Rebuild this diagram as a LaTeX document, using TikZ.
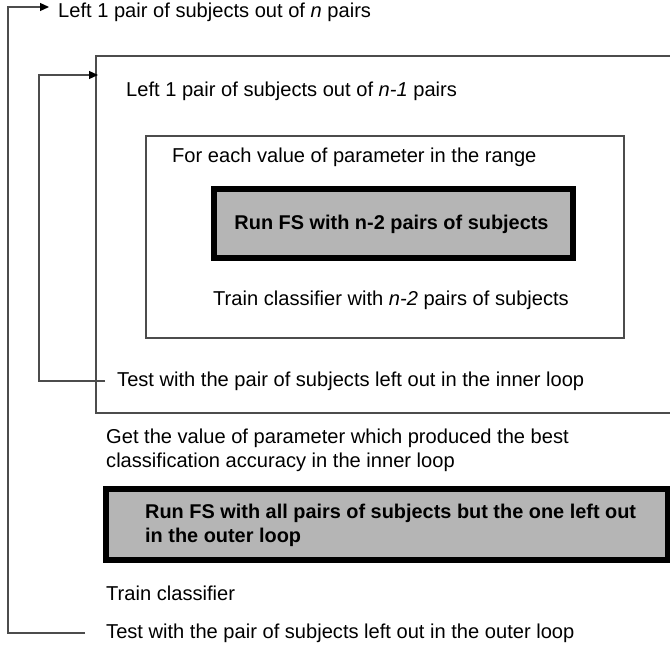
\documentclass[tikz,border=0pt]{standalone}
\usepackage{fontspec}
\setmainfont{Liberation Sans}
\usetikzlibrary{arrows.meta}
\definecolor{linegray}{gray}{0.3}
\definecolor{boxgray}{gray}{0.71}
\tikzset{
  txt/.style={anchor=base west, inner sep=0pt, font=\fontsize{20.1}{24}\selectfont, align=left},
  boldtxt/.style={anchor=base west, inner sep=0pt, font=\fontsize{19.9}{24}\selectfont\bfseries, align=left},
  framebox/.style={draw=linegray, line width=1.3pt},
  fsbox/.style={draw=black, line width=5.5pt, fill=boxgray},
  loopline/.style={draw=linegray, line width=1.3pt},
  looparrow/.style={loopline, -{Triangle[length=9pt,width=8pt,color=black]}},
}
\begin{document}
\begin{tikzpicture}[x=1pt,y=-1pt]
\useasboundingbox (0,0) rectangle (670,645);
\clip (0,0) rectangle (670,645);
% boxes
\draw[framebox] (96,56) rectangle (680,413);
\draw[framebox] (146,136) rectangle (624,338);
\draw[fsbox] (214,189) rectangle (573,258);
\draw[fsbox] (106,489) rectangle (667.5,560);
% texts
\node[txt] (outerTop) at (58,17) {Left 1 pair of subjects out of \textit{n} pairs};
\node[txt] (innerTop) at (126,96) {Left 1 pair of subjects out of \textit{n-1} pairs};
\node[txt] (foreach) at (172,162) {For each value of parameter in the range};
\node[boldtxt, anchor=base] (fs1) at (391.5,229) {Run FS with n-2 pairs of subjects};
\node[txt] (train1) at (213,305) {Train classifier with \textit{n-2} pairs of subjects};
\node[txt] (innerTest) at (117,386) {Test with the pair of subjects left out in the inner loop};
\node[txt] (getval) at (106,467) {Get the value of parameter which produced the best\\classification accuracy in the inner loop};
\node[boldtxt] (fs2) at (145,542) {Run FS with all pairs of subjects but the one left out\\in the outer loop};
\node[txt] (train2) at (106,600) {Train classifier};
\node[txt] (outerTest) at (106,638) {Test with the pair of subjects left out in the outer loop};
% loop connectors
\coordinate (oBot) at (85,633);
\coordinate (oCorner) at (8,633);
\coordinate (oTip) at (49,7);
\coordinate (iBot) at (105,381);
\coordinate (iCorner) at (39,381);
\coordinate (iTip) at (98,75);
\draw[looparrow] (oBot) -- (oCorner) |- (oTip);
\draw[looparrow] (iBot) -- (iCorner) |- (iTip);
\end{tikzpicture}
\end{document}
